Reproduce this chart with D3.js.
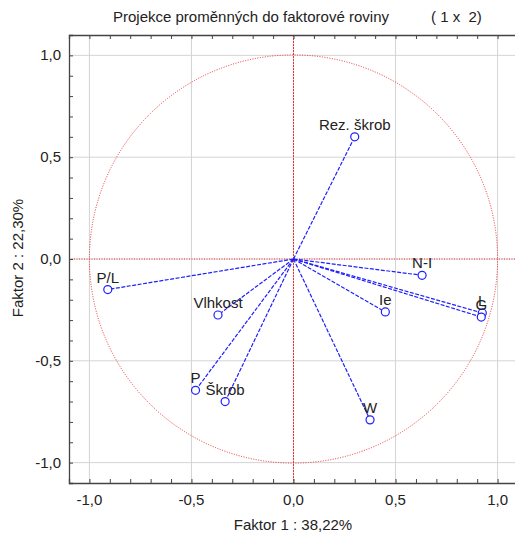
<!DOCTYPE html>
<html>
<head>
<meta charset="utf-8">
<script src="https://cdn.jsdelivr.net/npm/d3@7"></script>
<style>
body { margin: 0; background: #fff; }
text { font-family: "Liberation Sans", Arial, sans-serif; fill: #222; }
</style>
</head>
<body>
<script>
//variable names and their loadings on factor 1 and factor 2
var names = ["Rez. škrob", "N-I", "Ie", "L", "G", "P/L", "Vlhkost", "P", "Škrob", "W"];
var fac1 = [0.30, 0.63, 0.45, 0.925, 0.92, -0.91, -0.37, -0.48, -0.335, 0.375];
var fac2 = [0.60, -0.08, -0.26, -0.265, -0.285, -0.15, -0.275, -0.645, -0.70, -0.79];
var majorTicks = [-1.0, -0.5, 0.0, 0.5, 1.0];

var width = 515, height = 536;

var svg = d3.select("body").append("svg")
    .attr("width", width)
    .attr("height", height);

//scales, both -1.1..1.1
var x = d3.scaleLinear().domain([-1.1, 1.1]).range([69, 518]);
var y = d3.scaleLinear().domain([-1.1, 1.1]).range([483, 35]);

var fmt = function(d){ return d3.format(".1f")(d).replace(".", ",").replace("−", "-"); };
var minor = d3.range(-11, 12).map(function(i){ return i / 10; });

//grid lines at major ticks
svg.selectAll(".gx").data(majorTicks).enter().append("line")
    .attr("x1", function(d){ return x(d); })
    .attr("x2", function(d){ return x(d); })
    .attr("y1", 35).attr("y2", 483)
    .attr("stroke", "#d4d4d4").attr("stroke-width", 1);
svg.selectAll(".gy").data(majorTicks).enter().append("line")
    .attr("y1", function(d){ return y(d); })
    .attr("y2", function(d){ return y(d); })
    .attr("x1", 69).attr("x2", 515)
    .attr("stroke", "#d4d4d4").attr("stroke-width", 1);

//unit circle and zero lines, red dotted
svg.append("circle")
    .attr("cx", x(0)).attr("cy", y(0))
    .attr("r", x(1) - x(0))
    .attr("fill", "none")
    .attr("stroke", "#f03030")
    .attr("stroke-width", 1)
    .attr("stroke-dasharray", "1,1.5");
svg.append("line")
    .attr("x1", x(-1.1)).attr("x2", x(1.1))
    .attr("y1", y(0)).attr("y2", y(0))
    .attr("stroke", "#f03030").attr("stroke-dasharray", "1,1.5");
svg.append("line")
    .attr("x1", x(0)).attr("x2", x(0))
    .attr("y1", y(1.1)).attr("y2", y(-1.1))
    .attr("stroke", "#f03030").attr("stroke-dasharray", "2,1");

//axes with inward ticks
var xAxis = d3.axisBottom(x).tickValues(minor).tickSize(-4).tickFormat("");
var yAxis = d3.axisLeft(y).tickValues(minor).tickSize(-4).tickFormat("");
var xTop = d3.axisTop(x).tickValues(minor).tickSize(-4).tickFormat("");

[svg.append("g").attr("transform", "translate(0,483)").call(xAxis),
 svg.append("g").attr("transform", "translate(69,0)").call(yAxis),
 svg.append("g").attr("transform", "translate(0,35)").call(xTop)].forEach(function(g){
    g.select(".domain").attr("stroke", "#444").attr("stroke-width", 1.3);
    g.selectAll(".tick line").attr("stroke", "#444");
});

//tick labels
svg.selectAll(".xl").data(majorTicks).enter().append("text")
    .attr("x", function(d){ return x(d); })
    .attr("y", 505)
    .attr("text-anchor", "middle")
    .style("font-size", "15px")
    .text(fmt);
svg.selectAll(".yl").data(majorTicks).enter().append("text")
    .attr("x", 61)
    .attr("y", function(d){ return y(d) + 5; })
    .attr("text-anchor", "end")
    .style("font-size", "15px")
    .text(fmt);

//titles
svg.append("text")
    .attr("x", 113).attr("y", 22)
    .style("font-size", "15px")
    .text("Projekce proměnných do faktorové roviny");
svg.append("text")
    .attr("x", 431).attr("y", 22)
    .style("font-size", "15px")
    .attr("xml:space", "preserve")
    .text("( 1 x  2)");
svg.append("text")
    .attr("x", 293).attr("y", 530)
    .attr("text-anchor", "middle")
    .style("font-size", "15px")
    .text("Faktor 1 : 38,22%");
svg.append("text")
    .attr("transform", "translate(23,258) rotate(-90)")
    .attr("text-anchor", "middle")
    .style("font-size", "15px")
    .text("Faktor 2 : 22,30%");

//vectors from origin
var idx = d3.range(names.length);
svg.selectAll(".vec").data(idx).enter().append("line")
    .attr("x1", x(0)).attr("y1", y(0))
    .attr("x2", function(i){ return x(fac1[i]); })
    .attr("y2", function(i){ return y(fac2[i]); })
    .attr("stroke", "#1f1fff")
    .attr("stroke-width", 1.2)
    .attr("stroke-dasharray", "4,1.5");

//point markers
svg.selectAll(".pt").data(idx).enter().append("circle")
    .attr("cx", function(i){ return x(fac1[i]); })
    .attr("cy", function(i){ return y(fac2[i]); })
    .attr("r", 4)
    .attr("fill", "#fff")
    .attr("stroke", "#1f1fff")
    .attr("stroke-width", 1.2);

//point labels
svg.selectAll(".lbl").data(idx).enter().append("text")
    .attr("x", function(i){ return x(fac1[i]); })
    .attr("y", function(i){ return y(fac2[i]) - 7; })
    .attr("text-anchor", "middle")
    .style("font-size", "15px")
    .text(function(i){ return names[i]; });
</script>
</body>
</html>
